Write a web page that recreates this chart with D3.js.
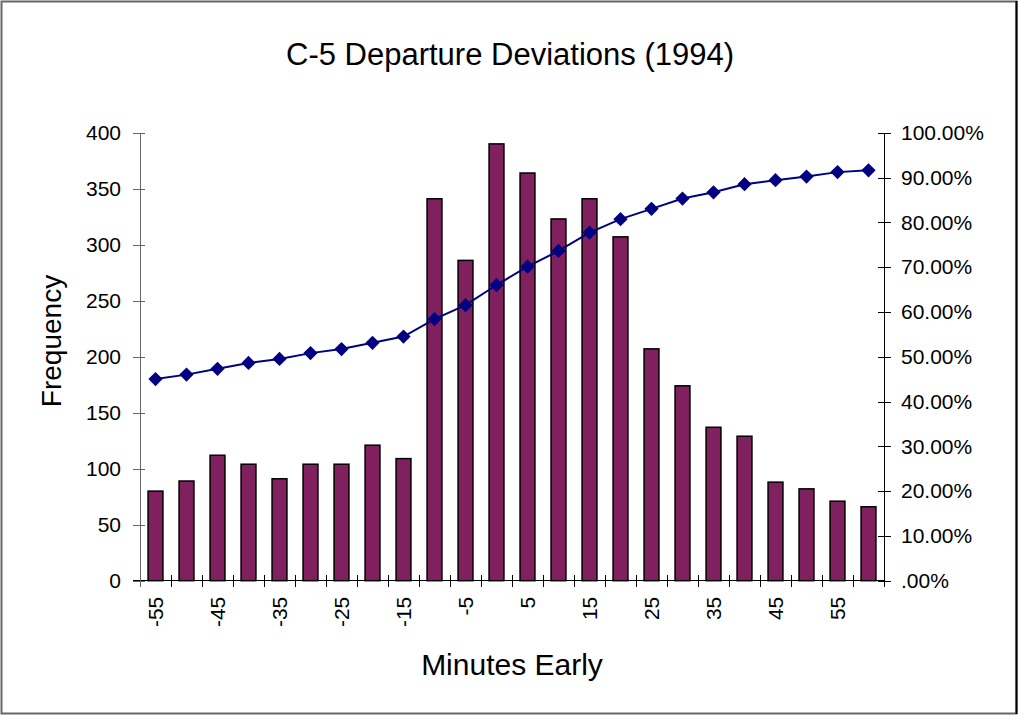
<!DOCTYPE html>
<html>
<head>
<meta charset="utf-8">
<script src="https://cdn.jsdelivr.net/npm/d3@7"></script>
<style>
  body { margin: 0; background: #fff; }
  svg { display: block; font-family: "Liberation Sans", Arial, sans-serif; }
  .axis path, .axis line { shape-rendering: crispEdges; }
</style>
</head>
<body>
<svg id="chart"></svg>
<script>
var categories = [-55, -50, -45, -40, -35, -30, -25, -20, -15, -10, -5, 0,
                  5, 10, 15, 20, 25, 30, 35, 40, 45, 50, 55, 60];
var frequency = [80, 89, 112, 104, 91, 104, 104, 121, 109, 341, 286, 390,
                 364, 323, 341, 307, 207, 174, 137, 129, 88, 82, 71, 66];
var cumulative = [0.450, 0.460, 0.473, 0.486, 0.495, 0.508, 0.517, 0.531, 0.545, 0.584, 0.615, 0.660,
                  0.701, 0.736, 0.777, 0.807, 0.830, 0.853, 0.867, 0.885, 0.894, 0.902, 0.912, 0.916];
var xTickLabels = [-55, -45, -35, -25, -15, -5, 5, 15, 25, 35, 45, 55];
var freqTicks = [0, 50, 100, 150, 200, 250, 300, 350, 400];
var pctTicks = [0, 0.1, 0.2, 0.3, 0.4, 0.5, 0.6, 0.7, 0.8, 0.9, 1.0];

var W = 1018, H = 716;
var margin = { top: 132.7, right: 134, bottom: 135.3, left: 140 };
var width = W - margin.left - margin.right;
var height = H - margin.top - margin.bottom;
var TICK_FONT = '21px';

var svg = d3.select('#chart').attr('width', W).attr('height', H);

// outer frame
svg.append('rect')
  .attr('x', 1.5).attr('y', 1.5)
  .attr('width', W - 3).attr('height', H - 4)
  .attr('fill', '#fff').attr('stroke', '#666').attr('stroke-width', 2);
svg.append('line')
  .attr('x1', W - 1.5).attr('x2', W - 1.5).attr('y1', 1).attr('y2', H - 2)
  .attr('stroke', '#000').attr('stroke-width', 2);

var chart = svg.append('g')
  .attr('transform', `translate(${ margin.left }, ${ margin.top })`);

var x = d3.scaleBand().domain(categories).range([0, width]).padding(0);
var y = d3.scaleLinear().domain([0, 400]).range([height, 0]);
var y2 = d3.scaleLinear().domain([0, 1]).range([height, 0]);

var BAR_W = x.bandwidth() * 0.48;

// bars
chart.selectAll('rect.bar')
  .data(frequency)
  .enter().append('rect')
    .attr('class', 'bar')
    .attr('x', (d, i) => x(categories[i]) + (x.bandwidth() - BAR_W) / 2)
    .attr('y', d => y(d))
    .attr('width', BAR_W)
    .attr('height', d => y(0) - y(d))
    .attr('fill', '#80205f')
    .attr('stroke', '#000')
    .attr('stroke-width', 1.5);

// left axis
var leftAxis = chart.append('g')
  .attr('class', 'axis')
  .call(d3.axisLeft(y).tickValues(freqTicks).tickSize(7));
leftAxis.selectAll('.tick line').attr('x2', 5).attr('x1', -7).attr('stroke', '#666');
leftAxis.select('.domain').attr('stroke', '#666').attr('d', `M0,0V${ height }`);
leftAxis.selectAll('.tick text')
  .attr('x', -19)
  .style('font-size', TICK_FONT).attr('fill', '#000');

// right axis
var pctFormat = d => d === 0 ? '.00%' : (d * 100).toFixed(2) + '%';
var rightAxis = chart.append('g')
  .attr('class', 'axis')
  .attr('transform', `translate(${ width }, 0)`)
  .call(d3.axisRight(y2).tickValues(pctTicks).tickFormat(pctFormat));
rightAxis.selectAll('.tick line').attr('x1', -6).attr('x2', 7).attr('stroke', '#000');
rightAxis.select('.domain').attr('stroke', '#000').attr('d', `M0,0V${ height }`);
rightAxis.selectAll('.tick text')
  .attr('x', 17)
  .style('font-size', TICK_FONT).attr('fill', '#000');

// bottom axis: ticks at category boundaries
var bottom = chart.append('g')
  .attr('class', 'axis')
  .attr('transform', `translate(0, ${ height })`);
bottom.append('line')
  .attr('x1', -7).attr('x2', width)
  .attr('stroke', '#000');
var boundaries = categories.map(c => x(c)).concat(width);
bottom.selectAll('line.tick')
  .data(boundaries)
  .enter().append('line')
    .attr('class', 'tick')
    .attr('x1', d => d).attr('x2', d => d)
    .attr('y1', -6).attr('y2', 6)
    .attr('stroke', (d, i) => i === 0 ? '#666' : '#000')
    .style('shape-rendering', 'crispEdges');
bottom.selectAll('text')
  .data(xTickLabels)
  .enter().append('text')
    .attr('transform', d => `translate(${ x(d) + x.bandwidth() / 2 + 7.5 }, 16) rotate(-90)`)
    .attr('text-anchor', 'end')
    .style('font-size', TICK_FONT)
    .text(d => d);

// cumulative line
var line = d3.line()
  .x((d, i) => x(categories[i]) + x.bandwidth() / 2)
  .y(d => y2(d));
chart.append('path')
  .datum(cumulative)
  .attr('d', line)
  .attr('fill', 'none')
  .attr('stroke', '#000080')
  .attr('stroke-width', 2);
chart.selectAll('path.marker')
  .data(cumulative)
  .enter().append('path')
    .attr('class', 'marker')
    .attr('transform', (d, i) => `translate(${ x(categories[i]) + x.bandwidth() / 2 }, ${ y2(d) })`)
    .attr('d', d3.symbol().type(d3.symbolDiamond2).size(130))
    .attr('fill', '#000080');

// titles
svg.append('text')
  .attr('x', 510).attr('y', 65)
  .attr('text-anchor', 'middle')
  .style('font-size', '31px')
  .text('C-5 Departure Deviations (1994)');
svg.append('text')
  .attr('transform', 'translate(61, 341) rotate(-90)')
  .attr('text-anchor', 'middle')
  .style('font-size', '28px')
  .text('Frequency');
svg.append('text')
  .attr('x', 512).attr('y', 675)
  .attr('text-anchor', 'middle')
  .style('font-size', '30px')
  .text('Minutes Early');
</script>
</body>
</html>
